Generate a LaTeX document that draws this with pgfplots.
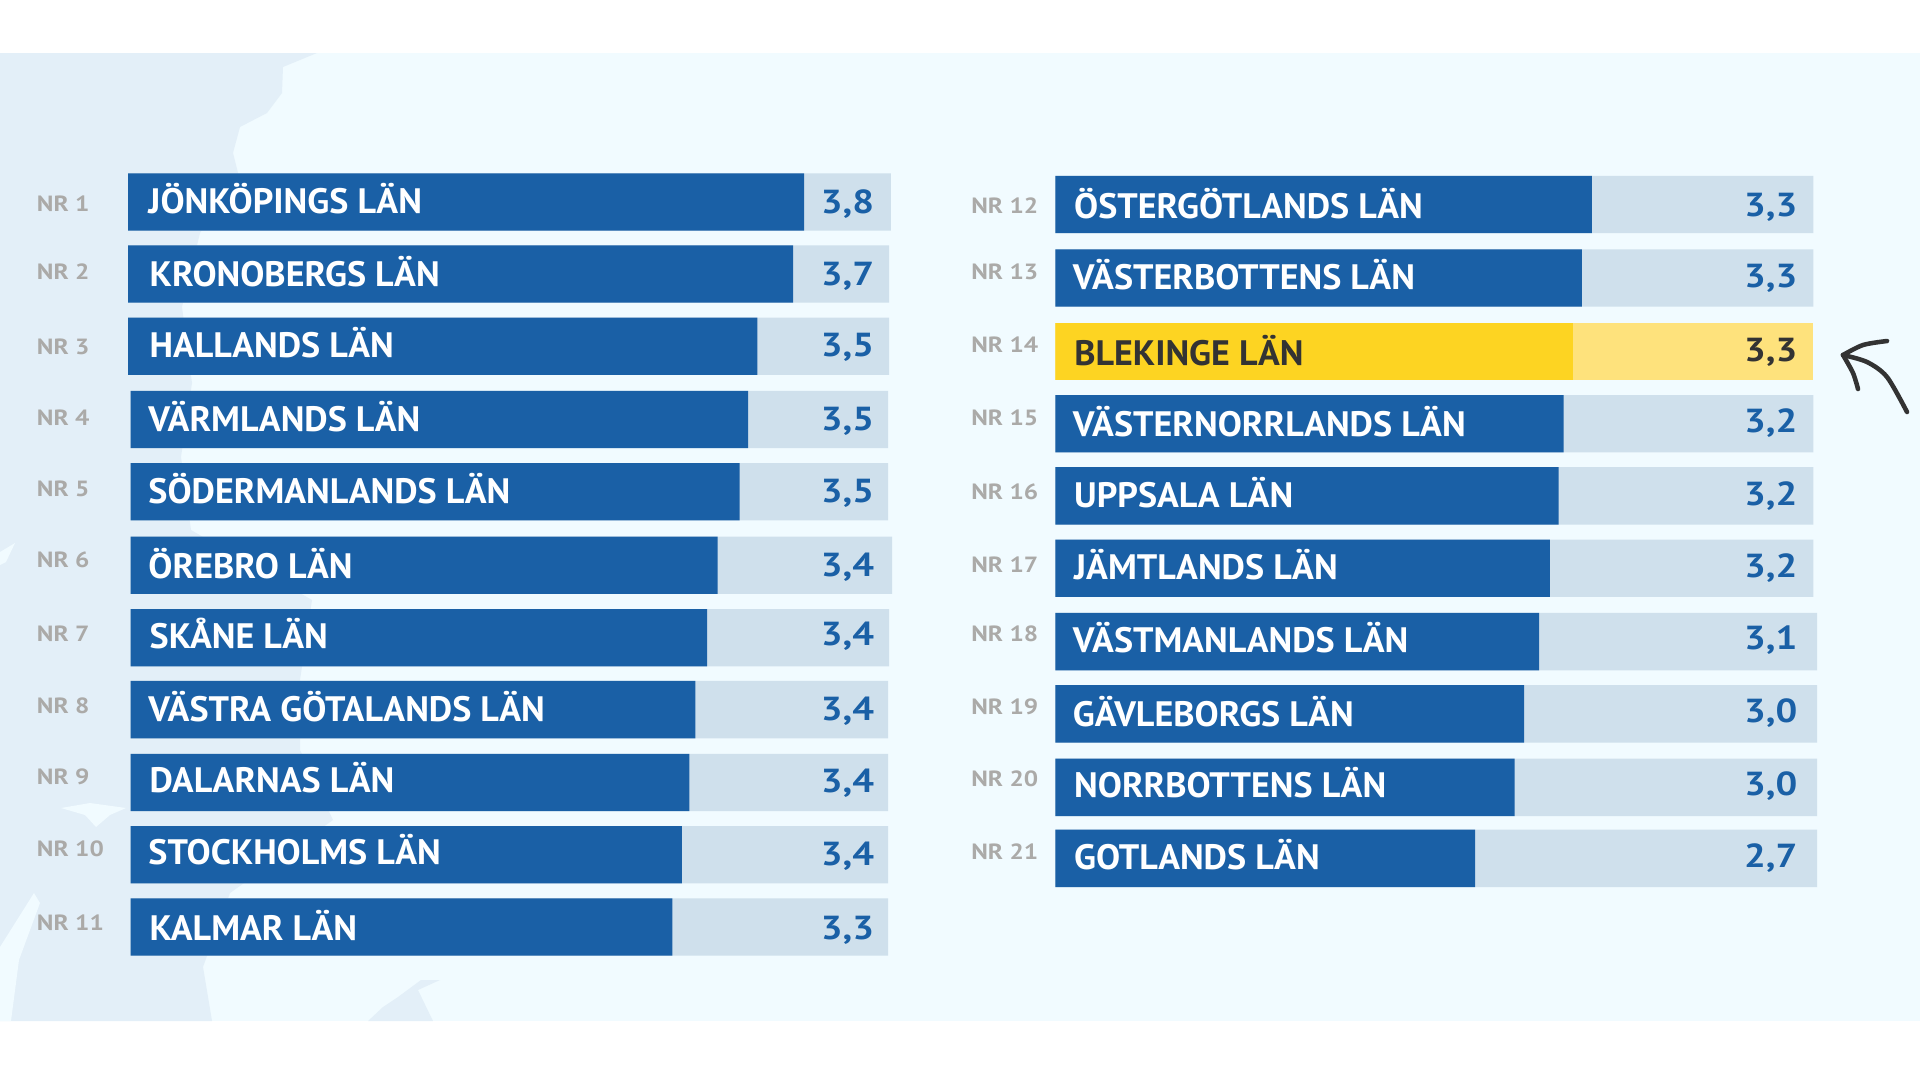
\documentclass[border=0pt]{standalone}
\usepackage{pgfplots}
\usepackage{pgfplotstable}
\usepackage{fontspec}
\pgfplotsset{compat=1.18}
\setmainfont{PT Sans}
\newfontfamily\namefont{PT Sans}[FakeStretch=1.02]
\newfontfamily\valfont{PT Sans}[FakeStretch=1.15]
\newfontfamily\nrfont{PT Sans}[FakeStretch=1.15]
\definecolor{barblue}{HTML}{1A60A6}
\definecolor{track}{HTML}{CFE0EC}
\definecolor{bgpale}{HTML}{F1FBFF}
\definecolor{land}{HTML}{E3EFF8}
\definecolor{yel}{HTML}{FDD422}
\definecolor{yellight}{HTML}{FEE27C}
\definecolor{nrgray}{HTML}{ABAAA8}
\definecolor{dark}{HTML}{333333}

% bars: y = bar centre, val = bar end, full = end of the pale track
\pgfplotstableread{
y val full
202.0 3.794 4.120
274.0 3.753 4.113
346.3 3.619 4.113
}\barsA
\pgfplotstableread{
y val full
419.5 3.584 4.109
491.7 3.553 4.109
565.3 3.470 4.124
637.7 3.431 4.113
709.6 3.387 4.109
782.5 3.364 4.109
854.7 3.336 4.109
927.0 3.300 4.109
}\barsB
\pgfplotstableread{
y val full
204.5 3.300 4.438
278.0 3.249 4.438
423.7 3.155 4.438
495.9 3.130 4.438
568.2 3.085 4.438
641.6 3.029 4.457
713.9 2.953 4.457
787.4 2.903 4.457
858.4 2.701 4.457
}\barsC
\pgfplotstableread{
y val full
351.4 3.205 4.438
}\barsY

\pgfplotstableread[col sep=semicolon]{
x;y;t
148.2;213.3;JÖNKÖPINGS LÄN
149.4;286.8;KRONOBERGS LÄN
149.4;357.8;HALLANDS LÄN
148.2;431.3;VÄRMLANDS LÄN
148.2;503.5;SÖDERMANLANDS LÄN
148.2;578.2;ÖREBRO LÄN
149.4;648.0;SKÅNE LÄN
148.2;721.5;VÄSTRA GÖTALANDS LÄN
149.4;792.5;DALARNAS LÄN
148.2;864.8;STOCKHOLMS LÄN
149.4;940.7;KALMAR LÄN
1073.9;218.2;ÖSTERGÖTLANDS LÄN
1072.7;289.2;VÄSTERBOTTENS LÄN
1072.7;436.2;VÄSTERNORRLANDS LÄN
1073.9;507.2;UPPSALA LÄN
1073.9;579.4;JÄMTLANDS LÄN
1072.7;652.9;VÄSTMANLANDS LÄN
1072.7;726.4;GÄVLEBORGS LÄN
1073.9;797.4;NORRBOTTENS LÄN
1073.9;869.7;GOTLANDS LÄN
}\names
\pgfplotstableread[col sep=semicolon]{
x;y;t
874.3;213.5;3,8
874.3;285.8;3,7
874.3;356.8;3,5
874.3;430.3;3,5
874.3;502.5;3,5
874.3;576.0;3,4
874.3;645.8;3,4
874.3;720.5;3,4
874.3;792.7;3,4
874.3;865.0;3,4
874.3;939.7;3,3
1797.6;216.0;3,3
1797.6;287.0;3,3
1797.6;432.7;3,2
1797.6;505.0;3,2
1797.6;577.2;3,2
1797.6;649.5;3,1
1797.6;722.9;3,0
1797.6;795.2;3,0
1797.6;867.4;2,7
}\vals
\pgfplotstableread[col sep=semicolon]{
x;y;t
36.7;211.3;NR 1
36.7;279.8;NR 2
36.7;354.5;NR 3
36.7;425.5;NR 4
36.7;496.6;NR 5
36.7;567.6;NR 6
36.7;641.0;NR 7
36.7;713.3;NR 8
36.7;784.3;NR 9
36.7;856.6;NR 10
36.7;930.0;NR 11
971.0;213.7;NR 12
971.0;279.8;NR 13
971.0;352.1;NR 14
971.0;425.5;NR 15
971.0;499.0;NR 16
971.0;572.5;NR 17
971.0;641.0;NR 18
971.0;714.5;NR 19
971.0;786.8;NR 20
971.0;859.0;NR 21
}\nrs

\pgfplotsset{
  canvas/.style={hide axis, scale only axis, width=1440pt, height=809.25pt,
    xmin=0, xmax=1920, ymin=0, ymax=1079, y dir=reverse,
    at={(720pt,404.625pt)}, anchor=center},
  barsaxis/.style={hide axis, scale only axis, y=0.75pt, ymin=0, ymax=1079, y dir=reverse, anchor=west},
  onebar/.style={xbar, bar width=43pt, bar shift=0pt, draw=none},
  textplot/.style={only marks, mark size=0pt, draw=none, point meta=explicit symbolic, nodes near coords,
    nodes near coords style={inner sep=0pt, #1}},
}
\begin{document}
\begin{tikzpicture}
\useasboundingbox (0,0) rectangle (1440pt,809.25pt);
\begin{axis}[canvas]
\addplot[fill=bgpale, draw=none] coordinates {(0,53)(1920,53)(1920,1021)(0,1021)} --cycle;
\addplot[fill=land, draw=none] coordinates {(0,53)(317,53)(283,67)(282,93)(267,113)(240,127)(233,153)(238,173)(200,233)(182,307)(192,383)(181,457)(191,530)(312,600)(300,680)(300,750)(333,820)(230,893)(203,967)(212,1021)(0,1021)} --cycle;
\addplot[fill=land, draw=none] coordinates {(368,1021)(383,1007)(398,997)(421,980)(440,980)(418,990)(433,1021)} --cycle;
\addplot[fill=bgpale, draw=none] coordinates {(0,947)(34,893)(40,903)(19,960)(11,1021)(0,1021)} --cycle;
\addplot[fill=bgpale, draw=none] coordinates {(61,808)(90,803)(126,808)(110,815)(96,827)(85,815)} --cycle;
\addplot[fill=bgpale, draw=none] coordinates {(0,552)(15,543)(6,562)(0,565)} --cycle;
\end{axis}
\begin{axis}[barsaxis, x=200pt, xmin=1.259, xmax=4.2, at={(96pt,404.625pt)}]
\addplot[onebar, fill=track] table[x=full, y=y] {\barsA};
\addplot[onebar, fill=barblue] table[x=val, y=y] {\barsA};
\end{axis}
\begin{axis}[barsaxis, x=200pt, xmin=1.269, xmax=4.2, at={(98pt,404.625pt)}]
\addplot[onebar, fill=track] table[x=full, y=y] {\barsB};
\addplot[onebar, fill=barblue] table[x=val, y=y] {\barsB};
\end{axis}
\begin{axis}[barsaxis, x=146pt, xmin=0.545, xmax=4.5, at={(791.6pt,404.625pt)}]
\addplot[onebar, fill=track] table[x=full, y=y] {\barsC};
\addplot[onebar, fill=barblue] table[x=val, y=y] {\barsC};
\addplot[onebar, fill=yellight] table[x=full, y=y] {\barsY};
\addplot[onebar, fill=yel] table[x=val, y=y] {\barsY};
\end{axis}
\begin{axis}[canvas]
\addplot[textplot={anchor=base west, font=\namefont\bfseries\fontsize{26.5}{28}\selectfont, text=white}]
  table[x=x, y=y, meta=t] {\names};
\addplot[textplot={anchor=base west, font=\namefont\bfseries\fontsize{26.5}{28}\selectfont, text=dark}]
  table[x=x, y=y, meta=t, col sep=semicolon] {
x;y;t
1074;365.2;BLEKINGE LÄN
};
\addplot[textplot={anchor=base east, font=\valfont\bfseries\fontsize{25}{27}\selectfont, text=barblue}]
  table[x=x, y=y, meta=t] {\vals};
\addplot[textplot={anchor=base east, font=\valfont\bfseries\fontsize{25}{27}\selectfont, text=dark}]
  table[x=x, y=y, meta=t, col sep=semicolon] {
x;y;t
1797.6;361.7;3,3
};
\addplot[textplot={anchor=base west, font=\nrfont\bfseries\fontsize{16.5}{18}\selectfont, text=nrgray}]
  table[x=x, y=y, meta=t] {\nrs};
% hand-drawn arrow pointing at Blekinge
\addplot[dark, line width=3.4pt, line cap=round, smooth, mark=none] coordinates {(1907,412)(1887,377)(1867,362)(1843,355)};
\addplot[dark, line width=3.4pt, line cap=round, smooth, mark=none] coordinates {(1887,341)(1863,345)(1843,355)};
\addplot[dark, line width=3.4pt, line cap=round, smooth, mark=none] coordinates {(1858,389)(1853,373)(1843,355)};
\end{axis}
\end{tikzpicture}
\end{document}
